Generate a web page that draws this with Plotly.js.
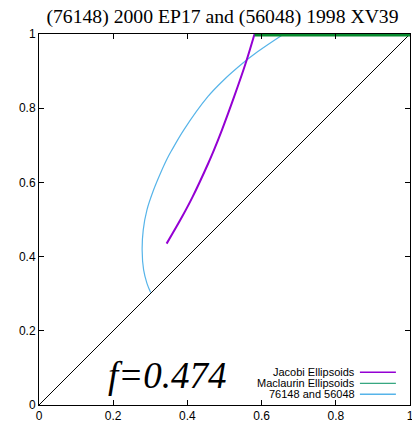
<!DOCTYPE html>
<html>
<head>
<meta charset="utf-8">
<script src="https://cdn.plot.ly/plotly-3.0.1.min.js"></script>
<style>html,body{margin:0;padding:0;background:#fff;}#chart{width:412px;height:428px;}</style>
</head>
<body>
<div id="chart"></div>
<script>
// Jacobi ellipsoids sequence
const jacobiX = [0.344, 0.386, 0.414, 0.456, 0.4715, 0.493, 0.526, 0.557, 0.581];
const jacobiY = [0.435, 0.508, 0.561, 0.651, 0.687, 0.741, 0.831, 0.921, 1.000];
// Maclaurin ellipsoids (b/a = 1)
const maclaurinX = [0.581, 1.0];
const maclaurinY = [1.0, 1.0];
// Diagonal reference y = x
const diagX = [0, 1];
const diagY = [0, 1];
// 76148 and 56048 curve
const pairX = [0.301, 0.291, 0.282, 0.278, 0.281, 0.291, 0.309, 0.328, 0.346, 0.358, 0.390, 0.455, 0.498, 0.549, 0.589, 0.660];
const pairY = [0.303, 0.328, 0.364, 0.418, 0.472, 0.526, 0.580, 0.626, 0.665, 0.687, 0.741, 0.831, 0.876, 0.921, 0.952, 1.000];

const tickVals = [0, 0.2, 0.4, 0.6, 0.8, 1];
const tickText = ['0', '0.2', '0.4', '0.6', '0.8', '1'];

const legendNames = ['Jacobi Ellipsoids', 'Maclaurin Ellipsoids', '76148 and 56048'];
const legendColors = ['#9400d3', '#008f5f', '#56b4e9'];
const titleText = '(76148) 2000 EP17 and (56048) 1998 XV39';
const fLabel = 'f=0.474';

const traces = [
  {x: diagX, y: diagY, mode: 'lines', line: {color: '#000', width: 1}},
  {x: pairX, y: pairY, mode: 'lines', line: {color: legendColors[2], width: 1.2, shape: 'spline', smoothing: 1}},
  {x: jacobiX, y: jacobiY, mode: 'lines', line: {color: legendColors[0], width: 2, shape: 'spline', smoothing: 1}},
  {x: maclaurinX, y: maclaurinY, mode: 'lines', line: {color: '#078a2e', width: 5}, cliponaxis: false}
];

const legY = [0.088, 0.0585, 0.029];
const annotations = legendNames.map((n, i) => ({
  text: n, x: 0.857, y: legY[i], xref: 'paper', yref: 'paper',
  xanchor: 'right', yanchor: 'middle', showarrow: false,
  font: {family: 'Liberation Sans, Arial, sans-serif', size: 11, color: '#000'}
}));
annotations.push({
  text: '<i>' + fLabel + '</i>', x: 0.181, y: 0.08, xref: 'paper', yref: 'paper',
  xanchor: 'left', yanchor: 'middle', showarrow: false,
  font: {family: 'Liberation Serif, Times New Roman, serif', size: 37, color: '#000'}
});
const shapes = legendNames.map((n, i) => ({
  type: 'line', xref: 'paper', yref: 'paper', x0: 0.865, x1: 0.962, y0: legY[i], y1: legY[i],
  line: {color: legendColors[i], width: i === 1 ? 1 : 1.5}
}));

const axisCommon = {
  range: [0, 1], tickmode: 'array', tickvals: tickVals, ticktext: tickText,
  ticks: 'inside', ticklen: 5, tickwidth: 1, tickcolor: '#000',
  showline: true, linecolor: '#000', linewidth: 1, mirror: 'allticks', showgrid: false, zeroline: false,
  tickfont: {family: 'Liberation Sans, Arial, sans-serif', size: 12, color: '#000'},
  ticklabeloverflow: 'allow',
  fixedrange: true
};

const layout = {
  width: 412, height: 428,
  margin: {l: 39, r: 2, t: 34, b: 23},
  paper_bgcolor: '#fff', plot_bgcolor: '#fff',
  showlegend: false,
  title: {text: titleText, x: 0.54, xanchor: 'center', y: 0.962, yanchor: 'middle', yref: 'container',
          font: {family: 'Liberation Serif, Times New Roman, serif', size: 19.7, color: '#000'}},
  xaxis: Object.assign({}, axisCommon),
  yaxis: Object.assign({}, axisCommon),
  annotations: annotations,
  shapes: shapes
};

Plotly.newPlot('chart', traces, layout, {displayModeBar: false, staticPlot: true});
</script>
</body>
</html>
